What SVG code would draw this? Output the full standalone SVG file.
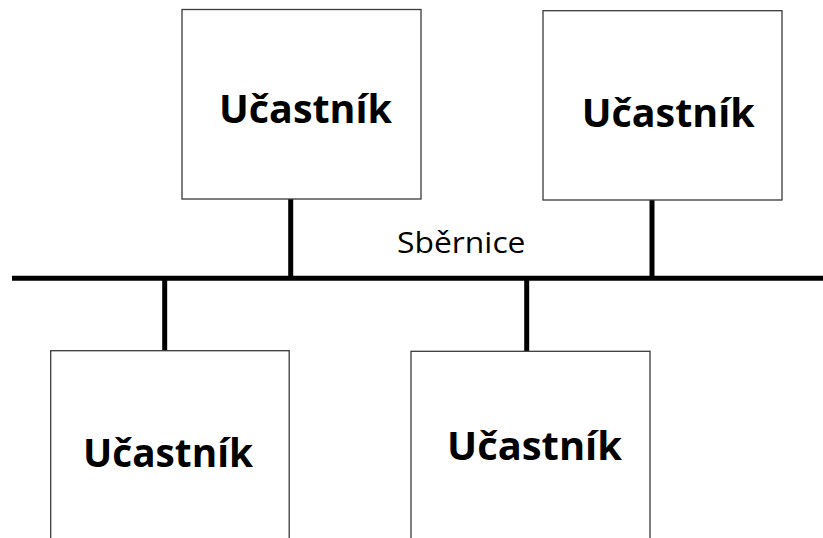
<svg xmlns="http://www.w3.org/2000/svg" width="823" height="538" viewBox="0 0 823 538">
  <style>
    .box { fill: #ffffff; stroke: #3a3a3a; stroke-width: 1.3; }
    .lbl { font-family: "Open Sans", "Noto Sans", "Liberation Sans", sans-serif; font-weight: 700; font-size: 39px; fill: #000; }
    .bus { stroke: #000; stroke-width: 5; fill: none; }
    .buslbl { font-family: "Open Sans", "Noto Sans", "Liberation Sans", sans-serif; font-weight: 400; font-size: 29px; fill: #000; }
  </style>
  <rect x="0" y="0" width="823" height="538" fill="#ffffff"/>
  <g id="connectors">
    <line class="bus" x1="12" y1="278.3" x2="823" y2="278.3"/>
    <line class="bus" x1="290.7" y1="199" x2="290.7" y2="278"/>
    <line class="bus" x1="652" y1="200" x2="652" y2="278"/>
    <line class="bus" x1="164.7" y1="278" x2="164.7" y2="351"/>
    <line class="bus" x1="526.7" y1="278" x2="526.7" y2="351"/>
    <text class="buslbl" x="397" y="253" textLength="128.5" lengthAdjust="spacingAndGlyphs">Sběrnice</text>
  </g>
  <g id="node1">
    <rect class="box" x="182" y="9.5" width="239" height="189.5"/>
    <text class="lbl" x="219" y="123" textLength="173" lengthAdjust="spacingAndGlyphs">Učastník</text>
  </g>
  <g id="node2">
    <rect class="box" x="543" y="10.7" width="239" height="189.3"/>
    <text class="lbl" x="581.7" y="126.7" textLength="173" lengthAdjust="spacingAndGlyphs">Učastník</text>
  </g>
  <g id="node3">
    <rect class="box" x="50.7" y="350.7" width="238.5" height="200"/>
    <text class="lbl" x="83" y="467" textLength="170" lengthAdjust="spacingAndGlyphs">Učastník</text>
  </g>
  <g id="node4">
    <rect class="box" x="411" y="351.3" width="239" height="200"/>
    <text class="lbl" x="447" y="460" textLength="175" lengthAdjust="spacingAndGlyphs">Učastník</text>
  </g>
</svg>
